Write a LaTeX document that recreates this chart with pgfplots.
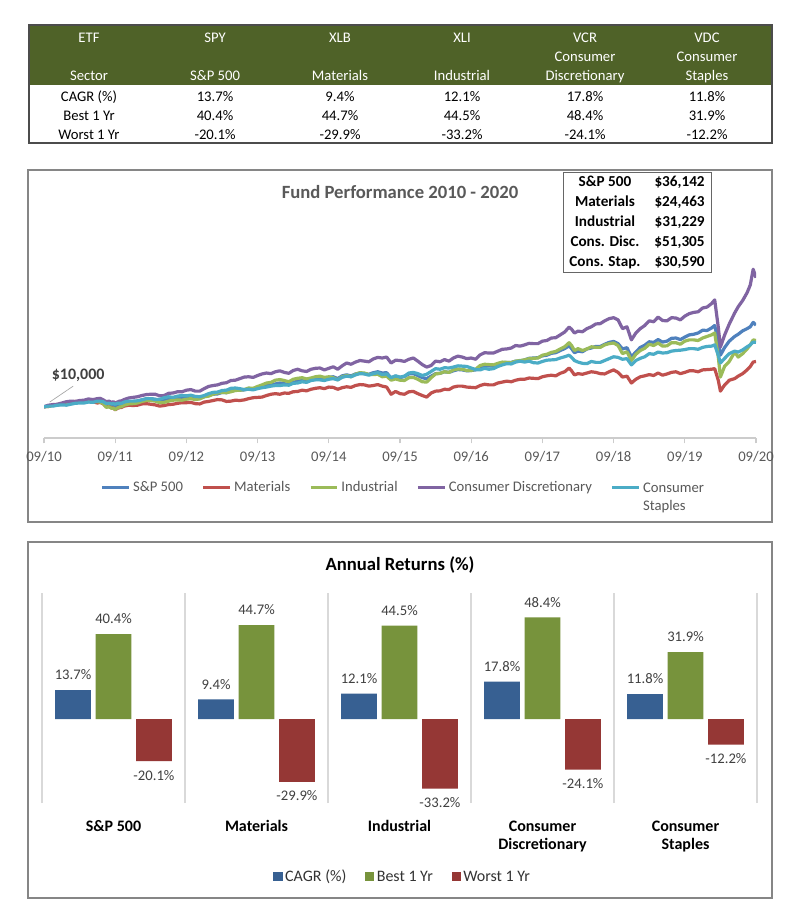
\documentclass[border=0pt]{standalone}
\usepackage{fontspec}
\setmainfont{Carlito}
\usepackage{pgfplots}
\pgfplotsset{compat=1.18}
\usepackage{pgfplotstable}

\definecolor{hdrgreen}{HTML}{4F6228}
\definecolor{sp}{HTML}{4F81BD}
\definecolor{mat}{HTML}{C0504D}
\definecolor{ind}{HTML}{9BBB59}
\definecolor{disc}{HTML}{8064A2}
\definecolor{stap}{HTML}{4BACC6}
\definecolor{barblue}{HTML}{376092}
\definecolor{bargreen}{HTML}{77933C}
\definecolor{barred}{HTML}{953735}
\definecolor{txtgray}{HTML}{595959}
\definecolor{framegray}{HTML}{868686}

% growth of $10,000, in thousands of dollars, years since 09/2010
\pgfplotstableread{
t      sp    mat   ind   disc  stap
0.000  10.0  10.0  10.0  10.0  10.0
0.0625 10.3  10.1  10.1  10.5  10.2
0.125  10.4  10.6  10.5  10.7  10.2
0.1875 10.5  10.7  10.6  10.8  10.5
0.250  10.9  11.0  10.9  11.2  10.6
0.3125 11.3  11.0  11.1  11.6  10.5
0.375  11.4  11.5  11.5  11.8  10.8
0.4375 11.4  11.7  11.4  11.7  11.1
0.500  11.7  11.4  11.7  12.0  11.2
0.5625 11.7  11.4  11.7  12.1  11.2
0.625  12.0  11.8  12.0  12.5  11.5
0.6875 11.8  11.6  11.8  12.3  11.4
0.750  11.8  11.2  11.6  12.6  11.8
0.790  11.9  11.4  11.5  12.7  11.8
0.833  11.3  10.9  11.0  12.2  11.6
0.875  10.6  10.0   9.8  11.6  11.0
0.9125 10.8  10.1  10.0  11.8  11.1
0.950  10.4   9.6   9.5  11.4  10.9
0.975  10.5   9.6   9.6  11.6  11.0
1.000  10.0   9.0   9.1  11.2  10.8
1.030  10.4   9.5   9.6  11.5  11.1
1.060  10.6   9.7   9.9  11.8  11.1
1.090  10.6   9.8  10.0  11.9  11.1
1.125  11.0  10.2  10.5  12.3  11.5
1.1875 11.4  10.5  10.9  12.8  11.8
1.250  11.6  10.4  11.0  13.0  11.8
1.3125 11.8  10.5  11.2  13.2  11.9
1.375  12.2  10.9  11.7  13.6  12.2
1.4375 12.5  11.0  12.0  13.9  12.6
1.500  12.6  10.8  12.0  14.0  12.6
1.5625 12.4  10.6  11.8  14.0  12.3
1.625  12.0  10.2  11.3  13.5  12.4
1.6875 12.1  10.4  11.4  13.6  12.9
1.750  12.6  10.7  11.8  14.3  13.2
1.8125 12.9  10.8  12.1  14.4  13.0
1.875  13.0  11.1  12.2  14.8  13.4
1.9375 12.9  11.3  12.1  14.8  13.6
2.000  13.3  11.3  12.4  15.3  13.5
2.0625 13.4  11.4  12.6  15.5  13.7
2.125  13.0  11.0  12.3  15.0  13.3
2.1875 12.8  10.9  12.5  15.0  13.2
2.250  13.2  11.5  13.2  15.8  13.6
2.3125 13.8  11.7  13.4  16.5  14.2
2.375  14.0  12.0  14.0  16.8  14.6
2.4375 14.1  12.3  14.4  17.0  14.7
2.500  14.6  12.2  14.6  17.5  15.2
2.5625 14.5  11.7  14.5  17.7  15.3
2.625  15.0  11.8  14.8  18.4  15.9
2.6875 15.3  12.1  15.2  18.5  16.0
2.750  15.3  12.0  15.3  19.0  15.8
2.8125 15.4  12.2  15.5  19.5  15.5
2.875  15.8  12.6  16.0  19.6  15.6
2.9375 15.6  12.9  15.9  19.4  15.4
3.000  16.0  13.0  16.5  20.0  15.8
3.0625 16.5  13.1  17.0  20.5  16.1
3.125  16.8  13.6  17.6  20.8  16.3
3.1875 16.9  14.0  17.8  20.6  16.6
3.250  17.3  14.2  18.5  21.2  16.8
3.3125 17.6  14.0  18.7  21.5  16.8
3.375  17.4  14.4  18.4  21.0  17.0
3.4375 17.0  14.3  18.0  20.7  16.9
3.500  17.8  14.8  18.8  21.6  17.5
3.5625 18.2  14.9  19.1  22.0  17.6
3.625  18.4  15.3  19.3  21.5  18.0
3.6875 18.3  15.1  18.9  21.3  17.8
3.750  18.8  15.6  19.2  22.0  18.4
3.8125 19.0  15.9  19.6  22.3  18.6
3.875  19.2  16.1  19.8  22.4  18.6
3.9375 18.9  15.8  19.4  21.8  18.4
4.000  19.4  16.3  19.6  22.3  18.8
4.0625 19.6  16.2  19.3  22.8  19.0
4.125  19.0  15.6  18.6  22.0  18.6
4.1875 19.9  16.1  19.6  23.1  19.4
4.250  20.2  16.4  20.0  24.0  19.8
4.3125 19.9  16.2  19.6  23.6  19.6
4.375  20.5  16.8  20.4  24.3  20.2
4.4375 20.8  17.1  20.9  24.8  20.6
4.500  20.6  17.0  20.8  24.6  20.5
4.5625 20.4  16.6  20.3  24.4  20.1
4.625  20.9  16.8  20.3  25.3  20.6
4.6875 21.2  17.1  20.4  25.8  20.9
4.750  20.8  16.6  19.6  25.6  20.3
4.8125 20.9  16.3  19.8  25.9  20.5
4.875  19.2  14.0  18.5  24.0  19.3
4.9375 19.8  14.9  18.9  24.9  19.9
5.000  19.3  14.2  18.5  24.8  19.5
5.0625 19.7  14.0  18.4  24.5  19.8
5.125  20.5  14.8  19.3  25.2  20.8
5.1875 20.6  14.9  19.4  25.6  21.0
5.250  20.0  14.2  18.8  24.6  20.6
5.3125 19.3  13.6  18.0  23.5  20.0
5.375  19.0  13.1  17.9  22.7  20.4
5.4375 19.8  14.4  19.3  23.2  21.3
5.500  20.6  15.0  20.5  24.6  22.2
5.5625 20.7  15.1  20.7  24.4  22.0
5.625  21.2  15.6  21.2  25.1  22.5
5.6875 21.0  15.5  21.0  24.6  22.4
5.750  21.5  16.3  21.8  25.6  22.7
5.8125 21.9  16.6  22.1  26.2  23.1
5.875  21.8  16.6  22.0  25.9  23.0
5.9375 21.5  16.3  21.6  25.4  22.9
6.000  21.6  16.2  21.6  25.6  22.4
6.0625 21.8  16.1  22.0  25.2  21.9
6.125  22.6  16.8  23.2  26.6  21.8
6.1875 23.1  17.2  23.6  27.3  22.3
6.250  23.0  17.0  23.5  27.2  22.0
6.3125 23.1  17.0  23.4  27.2  22.2
6.375  23.7  17.6  23.9  27.8  22.9
6.4375 24.1  17.9  24.3  28.4  23.4
6.500  24.2  18.2  24.2  28.5  23.8
6.5625 24.2  18.0  24.1  28.8  23.7
6.625  24.6  18.5  24.6  29.6  24.3
6.6875 24.6  18.8  24.8  29.4  24.6
6.750  25.0  18.8  25.0  29.8  24.3
6.8125 25.5  19.2  25.4  30.3  24.6
6.875  25.6  19.1  25.5  30.2  24.1
6.9375 25.7  19.0  25.6  30.2  24.0
7.000  26.3  19.6  26.5  31.0  24.5
7.0625 26.5  19.9  26.8  31.2  24.9
7.125  27.1  20.1  27.4  32.0  25.0
7.1875 27.3  19.9  27.7  32.1  25.1
7.250  28.0  20.7  28.5  33.0  25.6
7.3125 28.6  21.2  29.2  33.9  26.0
7.375  29.5  22.4  30.5  35.5  26.5
7.410  28.6  21.5  29.6  34.8  25.8
7.450  27.3  20.2  28.0  33.6  24.8
7.500  27.8  20.6  28.6  34.2  24.3
7.5625 27.6  20.4  28.0  34.0  23.9
7.625  28.5  20.8  28.5  35.0  23.8
7.6875 28.8  21.2  29.2  35.6  24.5
7.750  29.3  21.0  29.0  36.5  24.2
7.8125 29.3  20.6  29.0  36.6  24.2
7.875  30.0  20.5  29.8  37.5  24.8
7.9375 30.6  21.2  30.2  38.2  25.4
8.000  30.9  21.8  30.4  38.5  26.0
8.0625 30.2  21.0  29.6  37.8  25.8
8.125  28.5  19.5  27.0  35.0  25.2
8.1875 28.9  19.8  27.6  35.6  25.4
8.250  26.0  17.6  24.8  31.4  23.4
8.3125 27.5  18.8  26.8  33.6  24.8
8.375  29.0  19.6  28.0  35.0  25.5
8.4375 29.7  19.9  28.7  36.0  26.0
8.500  30.8  20.3  30.0  37.5  27.0
8.5625 30.6  20.0  29.6  37.2  26.8
8.625  31.5  20.8  30.4  38.7  27.5
8.6875 30.7  20.1  29.4  37.6  27.2
8.750  31.0  20.5  29.5  37.5  27.3
8.8125 31.9  21.0  30.5  38.5  27.8
8.875  32.0  21.2  30.5  38.4  28.0
8.9375 31.5  20.6  30.0  37.8  28.1
9.000  32.3  21.0  31.0  39.0  28.3
9.0625 33.0  21.5  31.4  39.8  28.6
9.125  33.2  21.5  31.4  40.2  28.6
9.1875 33.6  21.2  31.2  40.4  28.4
9.250  34.5  21.8  32.0  41.6  29.0
9.3125 34.4  21.9  32.5  41.9  29.3
9.375  35.2  22.0  33.0  43.0  29.4
9.420  36.0  22.2  33.6  44.2  29.8
9.470  31.0  18.5  26.0  35.5  26.5
9.500  26.5  15.0  19.5  29.1  24.0
9.560  29.0  17.0  23.0  33.0  25.5
9.625  31.0  18.5  24.5  36.5  27.0
9.700  32.5  19.0  27.5  40.0  27.8
9.750  33.2  19.8  25.9  42.0  27.5
9.8125 34.3  20.6  27.0  44.0  28.2
9.875  35.0  21.8  28.5  46.5  29.2
9.920  35.6  22.9  29.8  49.0  29.8
9.960  37.0  24.3  31.4  54.0  30.7
10.000 36.1  24.5  31.2  51.3  30.6
}\perf

\pgfplotstableread{
x cagr best worst
0 13.7 40.4 -20.1
1  9.4 44.7 -29.9
2 12.1 44.5 -33.2
3 17.8 48.4 -24.1
4 11.8 31.9 -12.2
}\bars

\begin{document}
\begin{tikzpicture}[x=0.75pt, y=-0.75pt, font=\fontsize{11}{13}\selectfont]
\fill[white] (0,0) rectangle (800,922);

% ---- summary table ----
\fill[hdrgreen] (29,25) rectangle (772,85);
\draw[black!70, line width=0.8pt] (29,25) rectangle (772,143);
\begin{scope}[yshift=-1.5pt, every node/.style={text height=1.6ex, text depth=0.4ex}]
\begin{scope}[every node/.append style={text=white}]
\node at (89,37) {ETF};   \node at (89,75) {Sector};
\node at (215,37) {SPY};  \node at (215,75) {S\&P 500};
\node at (340,37) {XLB};  \node at (340,75) {Materials};
\node at (462,37) {XLI};  \node at (462,75) {Industrial};
\node at (585,37) {VCR};  \node at (585,56) {Consumer}; \node at (585,75) {Discretionary};
\node at (707,37) {VDC};  \node at (707,56) {Consumer}; \node at (707,75) {Staples};
\end{scope}
\node at (89,96) {CAGR (\%)};  \node at (215,96) {13.7\%}; \node at (340,96) {9.4\%};
\node at (462,96) {12.1\%}; \node at (585,96) {17.8\%}; \node at (707,96) {11.8\%};
\node at (89,115) {Best 1 Yr}; \node at (215,115) {40.4\%}; \node at (340,115) {44.7\%};
\node at (462,115) {44.5\%}; \node at (585,115) {48.4\%}; \node at (707,115) {31.9\%};
\node at (89,134) {Worst 1 Yr}; \node at (215,134) {-20.1\%}; \node at (340,134) {-29.9\%};
\node at (462,134) {-33.2\%}; \node at (585,134) {-24.1\%}; \node at (707,134) {-12.2\%};
\end{scope}

% ---- fund performance ----
\draw[framegray, line width=0.8pt] (28,170) rectangle (772,522);
\node[font=\bfseries\fontsize{14}{16}\selectfont, text=txtgray] at (400,192) {Fund Performance 2010 - 2020};

\begin{axis}[
    at={(33pt,-328.5pt)}, anchor=south west, scale only axis,
    width=534pt, height=164.06pt,
    xmin=0, xmax=10, ymin=0, ymax=70,
    axis y line=none, axis x line*=bottom,
    x axis line style={draw=black!20, line width=0.8pt, -},
    xtick={0,...,10},
    xticklabels={09/10,09/11,09/12,09/13,09/14,09/15,09/16,09/17,09/18,09/19,09/20},
    xtick style={draw=black!20, line width=0.8pt},
    tick align=outside, major tick length=4pt,
    x tick label style={font=\fontsize{11}{13}\selectfont, text=txtgray, yshift=-2.25pt},
    every axis plot/.append style={line width=2.4pt, line join=round},
    legend image code/.code={\draw[#1] (0pt,0pt) -- (20pt,0pt);},
    legend style={draw=none, fill=none, at={(0.505,-0.17)}, anchor=north,
      legend columns=5,
      /tikz/every even column/.append style={column sep=12pt},
      font=\fontsize{11}{13}\selectfont, text=txtgray},
]
\addplot[sp] table[x=t, y=sp] {\perf};
\addplot[mat] table[x=t, y=mat] {\perf};
\addplot[ind] table[x=t, y=ind] {\perf};
\addplot[disc] table[x=t, y=disc] {\perf};
\addplot[stap] table[x=t, y=stap] {\perf};
\legend{S\&P 500, Materials, Industrial, Consumer Discretionary,
  {\raisebox{0pt}[\height][0pt]{\begin{tabular}[t]{@{}l@{}}Consumer\\Staples\end{tabular}}}}
\draw[black!35, line width=0.5pt] (axis cs:0.08,11.5) -- (axis cs:0.41,16.6);
\node[font=\bfseries\fontsize{12}{14}\selectfont, text=black!75] at (axis cs:0.48,20.2) {\$10,000};
\end{axis}

\node[draw=black!60, line width=0.6pt, fill=white, anchor=north west, inner sep=0pt]
  at (563,172) {\fontsize{11.4}{15}\selectfont\bfseries
  \begin{tabular}{@{\hspace{4.5pt}}c@{\hspace{10.5pt}}c@{\hspace{5pt}}}
  S\&P 500 & \$36,142\\
  Materials & \$24,463\\
  Industrial & \$31,229\\
  Cons. Disc. & \$51,305\\
  Cons. Stap. & \$30,590
  \end{tabular}};

% ---- annual returns ----
\draw[framegray, line width=0.8pt] (28,542) rectangle (772,898);
\node[font=\bfseries\fontsize{14}{16}\selectfont, text=black] at (400,565) {Annual Returns (\%)};

\begin{axis}[
    at={(31.5pt,-602.25pt)}, anchor=south west, scale only axis,
    width=536.25pt, height=157.5pt,
    xmin=-0.5, xmax=4.5, ymin=-40, ymax=60,
    ybar, bar width=0.25,
    axis line style={draw=none},
    ytick=\empty,
    xtick={0,...,4},
    xticklabels={S\&P 500, Materials, Industrial, {Consumer\\Discretionary}, {Consumer\\Staples}},
    x tick label style={font=\bfseries\fontsize{12}{13.5}\selectfont, align=center, text=black, yshift=-9.75pt},
    major tick length=0pt, minor tick length=0pt,
    minor xtick={-0.5,0.5,...,4.5},
    xminorgrids, minor grid style={draw=black!15, line width=0.8pt},
    nodes near coords={\pgfmathprintnumber[fixed,fixed zerofill,precision=1,assume math mode=true]{\pgfplotspointmeta}\%},
    every node near coord/.append style={font=\fontsize{11}{13}\selectfont, text=black!75,
      inner sep=5.5pt, text height=8.5pt, text depth=2pt},
    legend image code/.code={\fill[#1] (0pt,-3.4pt) rectangle (6.8pt,3.4pt);},
    legend style={draw=none, fill=none, at={(0.505,-0.352)}, anchor=center,
      legend columns=3,
      /tikz/every even column/.append style={column sep=12pt},
      font=\fontsize{12}{14}\selectfont, text=black!80},
]
\addplot[fill=barblue, draw=none, bar shift=-0.283] table[x=x, y=cagr] {\bars};
\addplot[fill=bargreen, draw=none, bar shift=0] table[x=x, y=best] {\bars};
\addplot[fill=barred, draw=none, bar shift=0.283] table[x=x, y=worst] {\bars};
\legend{CAGR (\%), Best 1 Yr, Worst 1 Yr}
\end{axis}
\end{tikzpicture}
\end{document}
